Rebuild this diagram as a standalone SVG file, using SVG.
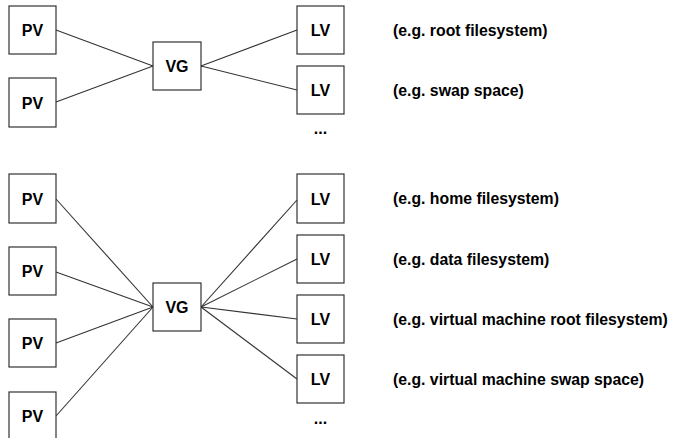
<svg xmlns="http://www.w3.org/2000/svg" width="674" height="438" viewBox="0 0 674 438">
<style>
.box{fill:#fff;stroke:#333;stroke-width:1.2}
.lbl{font-family:"Liberation Sans",Arial,sans-serif;font-weight:bold;font-size:16px;fill:#000;text-anchor:middle}
.note{font-family:"Liberation Sans",Arial,sans-serif;font-weight:bold;font-size:15.8px;fill:#000}
.conn line{stroke:#333;stroke-width:1.1}
</style>
<rect width="674" height="438" fill="#fff"/>
<g id="connectors" class="conn">
<line x1="56" y1="30" x2="153" y2="66"/>
<line x1="56" y1="102" x2="153" y2="66"/>
<line x1="201" y1="66" x2="297" y2="30"/>
<line x1="201" y1="66" x2="297" y2="90"/>
<line x1="56" y1="199" x2="153" y2="307"/>
<line x1="56" y1="272" x2="153" y2="307"/>
<line x1="56" y1="343" x2="153" y2="307"/>
<line x1="56" y1="416" x2="153" y2="307"/>
<line x1="201" y1="307" x2="297" y2="200"/>
<line x1="201" y1="307" x2="297" y2="259"/>
<line x1="201" y1="307" x2="297" y2="319"/>
<line x1="201" y1="307" x2="297" y2="379"/>
</g>
<g id="pv1"><rect class="box" x="9" y="6" width="47" height="48"/><text class="lbl" x="32.5" y="36">PV</text></g>
<g id="pv2"><rect class="box" x="9" y="78" width="47" height="49"/><text class="lbl" x="32.5" y="108.5">PV</text></g>
<g id="vg1"><rect class="box" x="153" y="42" width="48" height="48"/><text class="lbl" x="177" y="72">VG</text></g>
<g id="lv1"><rect class="box" x="297" y="6" width="47" height="48"/><text class="lbl" x="320.5" y="36">LV</text></g>
<g id="lv2"><rect class="box" x="297" y="66" width="47" height="48"/><text class="lbl" x="320.5" y="96">LV</text></g>
<text class="lbl" x="320.5" y="134">...</text>
<text class="note" x="393" y="36">(e.g. root filesystem)</text>
<text class="note" x="393" y="96">(e.g. swap space)</text>

<g id="pv3"><rect class="box" x="9" y="174" width="47" height="49"/><text class="lbl" x="32.5" y="204.5">PV</text></g>
<g id="pv4"><rect class="box" x="9" y="247" width="47" height="48"/><text class="lbl" x="32.5" y="277">PV</text></g>
<g id="pv5"><rect class="box" x="9" y="319" width="47" height="48"/><text class="lbl" x="32.5" y="349">PV</text></g>
<g id="pv6"><rect class="box" x="9" y="392" width="47" height="60"/><text class="lbl" x="32.5" y="422">PV</text></g>
<g id="vg2"><rect class="box" x="153" y="283" width="48" height="48"/><text class="lbl" x="177" y="313">VG</text></g>
<g id="lv3"><rect class="box" x="297" y="174" width="47" height="49"/><text class="lbl" x="320.5" y="204.5">LV</text></g>
<g id="lv4"><rect class="box" x="297" y="235" width="47" height="48"/><text class="lbl" x="320.5" y="265">LV</text></g>
<g id="lv5"><rect class="box" x="297" y="295" width="47" height="48"/><text class="lbl" x="320.5" y="325">LV</text></g>
<g id="lv6"><rect class="box" x="297" y="355" width="47" height="48"/><text class="lbl" x="320.5" y="385">LV</text></g>
<text class="lbl" x="320.5" y="424">...</text>
<text class="note" x="393" y="204">(e.g. home filesystem)</text>
<text class="note" x="393" y="265">(e.g. data filesystem)</text>
<text class="note" x="393" y="325">(e.g. virtual machine root filesystem)</text>
<text class="note" x="393" y="385">(e.g. virtual machine swap space)</text>
</svg>
